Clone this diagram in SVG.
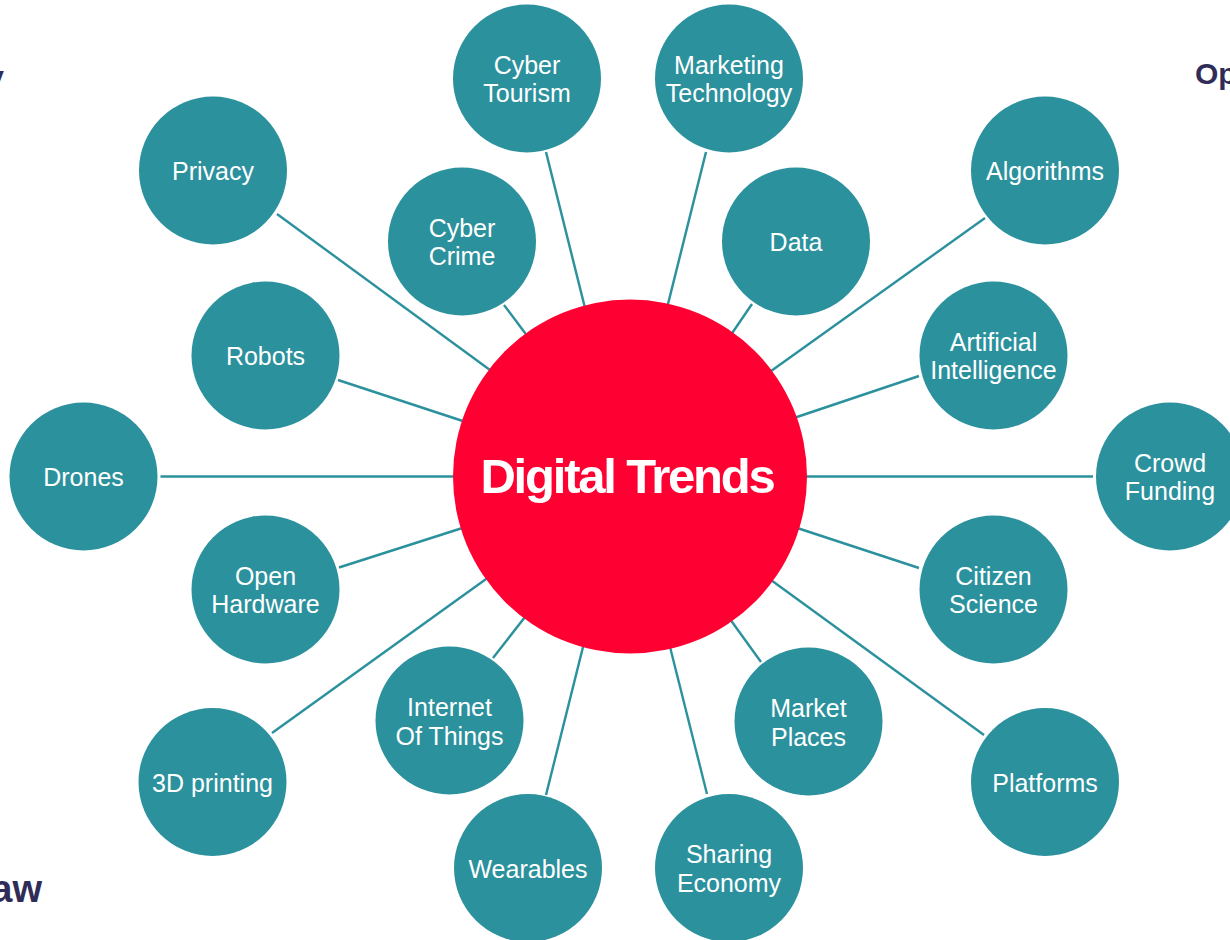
<svg xmlns="http://www.w3.org/2000/svg" width="1230" height="940" viewBox="0 0 1230 940">
  <style>
    .edge { stroke: #2B919D; stroke-width: 2.4; fill: none; }
    .node { fill: #2B919D; }
    .lbl { font-family: "Liberation Sans", Arial, Helvetica, sans-serif; font-size: 25px; fill: #FFFFFF; text-anchor: middle; }
    .hub { fill: #FF0032; }
    .hublbl { font-family: "Liberation Sans", Arial, Helvetica, sans-serif; font-size: 49px; font-weight: bold; fill: #FFFFFF; text-anchor: middle; letter-spacing: -2.2px; }
    .frag { font-family: "Liberation Sans", Arial, Helvetica, sans-serif; font-weight: bold; fill: #302C58; }
  </style>
  <rect x="0" y="0" width="1230" height="940" fill="#FFFFFF"/>

  <!-- cropped slide text fragments -->
  <text class="frag" x="4" y="89" font-size="34" text-anchor="end">y</text>
  <text class="frag" x="1195" y="84" font-size="30">Op</text>
  <text class="frag" x="42" y="902" font-size="38" text-anchor="end">aw</text>

  <g id="connectors">
    <line class="edge" x1="546" y1="152" x2="588" y2="320"/>
    <line class="edge" x1="706" y1="152" x2="664" y2="320"/>
    <line class="edge" x1="504" y1="305" x2="534" y2="345"/>
    <line class="edge" x1="752" y1="304" x2="724" y2="345"/>
    <line class="edge" x1="277" y1="214" x2="505" y2="381"/>
    <line class="edge" x1="338" y1="380" x2="478" y2="426"/>
    <line class="edge" x1="985" y1="218" x2="760" y2="379"/>
    <line class="edge" x1="919" y1="376" x2="782" y2="422"/>
    <line class="edge" x1="160.5" y1="476.5" x2="480" y2="476.5"/>
    <line class="edge" x1="780" y1="476.5" x2="1093" y2="476.5"/>
    <line class="edge" x1="339" y1="567.5" x2="478" y2="523"/>
    <line class="edge" x1="919" y1="568" x2="782" y2="523"/>
    <line class="edge" x1="272" y1="733" x2="500" y2="569"/>
    <line class="edge" x1="984" y1="735" x2="760" y2="572"/>
    <line class="edge" x1="493" y1="658" x2="532" y2="608"/>
    <line class="edge" x1="761" y1="662" x2="722" y2="608"/>
    <line class="edge" x1="546" y1="795" x2="586" y2="635"/>
    <line class="edge" x1="707" y1="794" x2="667" y2="635"/>
  </g>

  <g id="hub-digital-trends">
    <circle class="hub" cx="630" cy="476.5" r="177"/>
    <text class="hublbl" x="627" y="493">Digital Trends</text>
  </g>

  <g id="node-cyber-tourism">
    <circle class="node" cx="527" cy="78.5" r="74"/>
    <text class="lbl" x="527" y="73.5">Cyber</text>
    <text class="lbl" x="527" y="102">Tourism</text>
  </g>
  <g id="node-marketing-technology">
    <circle class="node" cx="729" cy="78.5" r="74"/>
    <text class="lbl" x="729" y="73.5">Marketing</text>
    <text class="lbl" x="729" y="102">Technology</text>
  </g>
  <g id="node-privacy">
    <circle class="node" cx="213" cy="170.5" r="74"/>
    <text class="lbl" x="213" y="180">Privacy</text>
  </g>
  <g id="node-algorithms">
    <circle class="node" cx="1045" cy="170.5" r="74"/>
    <text class="lbl" x="1045" y="180">Algorithms</text>
  </g>
  <g id="node-cyber-crime">
    <circle class="node" cx="462" cy="241.5" r="74"/>
    <text class="lbl" x="462" y="236.5">Cyber</text>
    <text class="lbl" x="462" y="265">Crime</text>
  </g>
  <g id="node-data">
    <circle class="node" cx="796" cy="241.5" r="74"/>
    <text class="lbl" x="796" y="251">Data</text>
  </g>
  <g id="node-robots">
    <circle class="node" cx="265.5" cy="355.5" r="74"/>
    <text class="lbl" x="265.5" y="365">Robots</text>
  </g>
  <g id="node-artificial-intelligence">
    <circle class="node" cx="993.5" cy="355.5" r="74"/>
    <text class="lbl" x="993.5" y="350.5">Artificial</text>
    <text class="lbl" x="993.5" y="379">Intelligence</text>
  </g>
  <g id="node-drones">
    <circle class="node" cx="83.5" cy="476.5" r="74"/>
    <text class="lbl" x="83.5" y="486">Drones</text>
  </g>
  <g id="node-crowd-funding">
    <circle class="node" cx="1170" cy="476.5" r="74"/>
    <text class="lbl" x="1170" y="471.5">Crowd</text>
    <text class="lbl" x="1170" y="500">Funding</text>
  </g>
  <g id="node-open-hardware">
    <circle class="node" cx="265.5" cy="589.5" r="74"/>
    <text class="lbl" x="265.5" y="584.5">Open</text>
    <text class="lbl" x="265.5" y="613">Hardware</text>
  </g>
  <g id="node-citizen-science">
    <circle class="node" cx="993.5" cy="589.5" r="74"/>
    <text class="lbl" x="993.5" y="584.5">Citizen</text>
    <text class="lbl" x="993.5" y="613">Science</text>
  </g>
  <g id="node-3d-printing">
    <circle class="node" cx="212.5" cy="782" r="74"/>
    <text class="lbl" x="212.5" y="791.5">3D printing</text>
  </g>
  <g id="node-platforms">
    <circle class="node" cx="1045" cy="782" r="74"/>
    <text class="lbl" x="1045" y="791.5">Platforms</text>
  </g>
  <g id="node-internet-of-things">
    <circle class="node" cx="449.5" cy="720.5" r="74"/>
    <text class="lbl" x="449.5" y="715.5">Internet</text>
    <text class="lbl" x="449.5" y="744.5">Of Things</text>
  </g>
  <g id="node-market-places">
    <circle class="node" cx="808.5" cy="721.5" r="74"/>
    <text class="lbl" x="808.5" y="716.5">Market</text>
    <text class="lbl" x="808.5" y="745.5">Places</text>
  </g>
  <g id="node-wearables">
    <circle class="node" cx="528" cy="868" r="74"/>
    <text class="lbl" x="528" y="877.5">Wearables</text>
  </g>
  <g id="node-sharing-economy">
    <circle class="node" cx="729" cy="868" r="74"/>
    <text class="lbl" x="729" y="863">Sharing</text>
    <text class="lbl" x="729" y="892">Economy</text>
  </g>
</svg>
